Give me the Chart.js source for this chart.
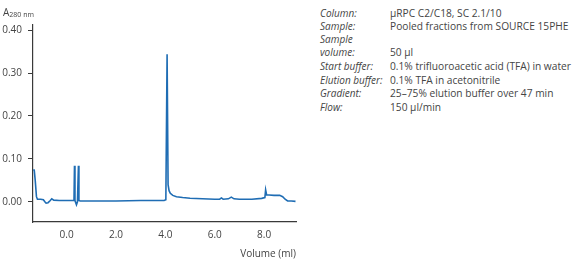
<!DOCTYPE html>
<html>
<head>
<meta charset="utf-8">
<script src="https://cdn.jsdelivr.net/npm/chart.js@4/dist/chart.umd.min.js"></script>
<style>
  html, body { margin: 0; padding: 0; background: #fff; }
  body { width: 573px; height: 260px; position: relative; overflow: hidden;
         font-family: "Open Sans", sans-serif; color: #444; }
  #plot { position: absolute; left: 0; top: 0; width: 300px; height: 260px; }
  #ylab { position: absolute; left: 3px; top: 5px; font-size: 10px; line-height: 14px; }
  #ylab sub { font-size: 7px; vertical-align: -1px; }
  .row { position: absolute; font-size: 10px; line-height: 13px; white-space: nowrap; }
  .lbl { left: 320px; font-style: italic; }
  .val { left: 390px; font-size: 10.2px; }
</style>
</head>
<body>
<div id="plot"><canvas id="chart"></canvas></div>
<div id="ylab">A<sub>280 nm</sub></div>
<div id="info"></div>
<script>
// chromatogram trace
const volume = [-1.35, -1.31, -1.27, -1.22, -1.18, -1.05, -0.94, -0.88, -0.83, -0.75, -0.66, -0.60, -0.52,
    -0.30, 0.00, 0.30, 0.32, 0.34, 0.37, 0.40, 0.44, 0.48, 0.50, 0.55, 1.00, 2.00, 3.00, 3.95, 4.02,
    4.07, 4.11, 4.15, 4.20, 4.30, 4.45, 4.70, 5.00, 5.50, 6.00, 6.20, 6.27, 6.34, 6.55, 6.67, 6.78,
    7.00, 7.50, 7.90, 8.03, 8.06, 8.10, 8.20, 8.40, 8.63, 8.75, 8.85, 8.95, 9.10, 9.27];
const absorbance = [0.075, 0.074, 0.050, 0.012, 0.006, 0.006, 0.005, 0.000, -0.003, -0.002, 0.003, 0.007, 0.004,
    0.003, 0.003, 0.003, 0.084, 0.003, -0.002, -0.007, 0.000, 0.084, 0.003, 0.002, 0.002, 0.002, 0.003, 0.003, 0.005,
    0.344, 0.040, 0.026, 0.020, 0.015, 0.012, 0.010, 0.0085, 0.007, 0.006, 0.006, 0.009, 0.006, 0.007, 0.011, 0.007,
    0.006, 0.006, 0.008, 0.010, 0.028, 0.016, 0.016, 0.015, 0.015, 0.012, 0.006, 0.002, 0.002, 0.001];

const xTicks = [0, 2, 4, 6, 8];
const yTicks = [0, 0.1, 0.2, 0.3, 0.4];

const infoLabels = ["Column:", "Sample:", "Sample", "volume:", "Start buffer:", "Elution buffer:", "Gradient:", "Flow:"];
const infoValues = ["µRPC C2/C18, SC 2.1/10", "Pooled fractions from SOURCE 15PHE", "", "50 µl",
    "0.1% trifluoroacetic acid (TFA) in water", "0.1% TFA in acetonitrile",
    "25–75% elution buffer over 47 min", "150 µl/min"];
const infoTops = [7, 20, 33, 46, 60, 74, 87, 101];

const info = document.getElementById("info");
infoLabels.forEach((t, i) => {
    const l = document.createElement("div");
    l.className = "row lbl";
    l.style.top = infoTops[i] + "px";
    l.textContent = t;
    info.appendChild(l);
    const v = document.createElement("div");
    v.className = "row val";
    v.style.top = infoTops[i] + "px";
    v.textContent = infoValues[i];
    info.appendChild(v);
});

const axisColor = "#3a3a3a";
const textColor = "#444";

new Chart(document.getElementById("chart"), {
    type: "line",
    data: {
        datasets: [{
            data: volume.map((v, i) => ({x: v, y: absorbance[i]})),
            borderColor: "#1f6db4",
            borderWidth: 1.6,
            pointRadius: 0,
            tension: 0,
            fill: false
        }]
    },
    options: {
        responsive: true,
        maintainAspectRatio: false,
        animation: false,
        events: [],
        layout: {padding: {top: 25, right: 4, left: 0, bottom: 0}},
        plugins: {legend: {display: false}, tooltip: {enabled: false}},
        scales: {
            x: {
                type: "linear",
                min: -1.36,
                max: 9.29,
                afterBuildTicks: s => { s.ticks = xTicks.map(v => ({value: v})); },
                afterFit: s => { s.height = 38; },
                grid: {display: false, drawTicks: false},
                border: {display: true, color: axisColor, width: 1.2},
                ticks: {
                    color: textColor, padding: 7, maxRotation: 0,
                    font: {family: "Open Sans", size: 10},
                    callback: v => v.toFixed(1)
                },
                title: {
                    display: true, text: "Volume (ml)", align: "end", color: textColor,
                    font: {family: "Open Sans", size: 10}, padding: {top: 0, bottom: 0}
                }
            },
            y: {
                min: -0.047,
                max: 0.412,
                afterBuildTicks: s => { s.ticks = yTicks.map(v => ({value: v})); },
                afterFit: s => { s.width = 33; },
                grid: {drawOnChartArea: false, tickLength: 5, color: axisColor, lineWidth: 1},
                border: {display: true, color: axisColor, width: 1.2},
                ticks: {
                    color: textColor, padding: 6,
                    font: {family: "Open Sans", size: 10},
                    callback: v => v.toFixed(2)
                }
            }
        }
    }
});
</script>
</body>
</html>
